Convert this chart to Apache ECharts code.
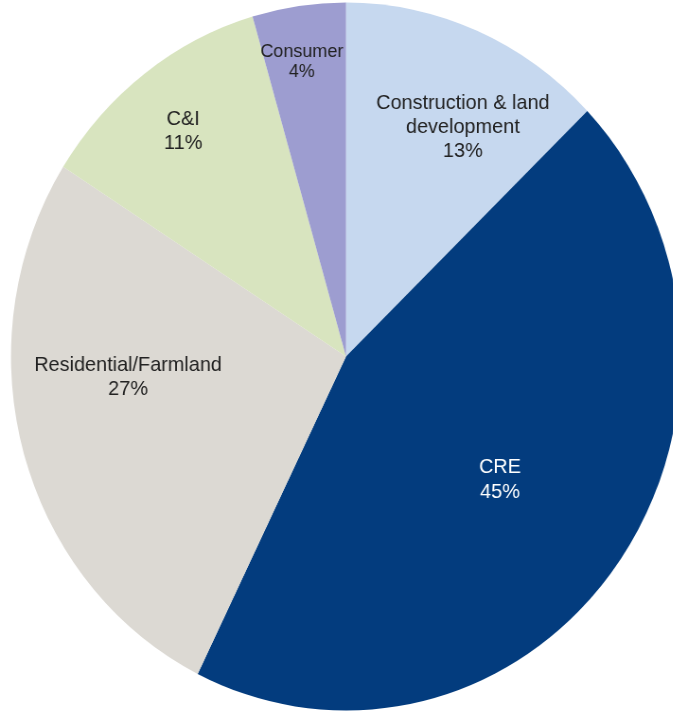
<!DOCTYPE html>
<html>
<head>
<meta charset="utf-8">
<script src="https://cdn.jsdelivr.net/npm/echarts@6/dist/echarts.min.js"></script>
<style>
  html, body { margin: 0; padding: 0; background: #ffffff; overflow: hidden; }
  #wrap { width: 673px; height: 712px; overflow: hidden; position: relative; }
  #chart { width: 712px; height: 712px; transform: scaleX(0.9463); transform-origin: 0 0; }
</style>
</head>
<body>
<div id="wrap"><div id="chart"></div></div>
<script>
// ---- data ----
const categories = ['Construction & land\ndevelopment', 'CRE', 'Residential/Farmland', 'C&I', 'Consumer'];
// slice sizes (percent of total)
const shares = [12.8, 44.5, 26.7, 11.5, 4.5];
// percentage labels as printed in the picture
const pctLabels = ['13%', '45%', '27%', '11%', '4%'];

// ---- style ----
const colors = ['#c6d8ef', '#033c7e', '#dcd9d3', '#d8e4bf', '#9d9dd0'];
const textColors = ['#222222', '#ffffff', '#222222', '#222222', '#222222'];
const fontSizes = [21, 21, 21, 21, 19];
const lineHeights = [24, 25, 24, 24, 20];
// label placement: angular shift from slice mid-angle (deg), radius fraction
const labelAngleShift = [5.3, 1.0, 10.6, -0.5, -0.9];
const labelRadiusFrac = [0.735, 0.577, 0.653, 0.80, 0.842];

const CX = 365.6, CY = 356.5, R = 354;

const total = shares.reduce((a, b) => a + b, 0);
const midAngles = [];
let acc = 0;
shares.forEach(v => { midAngles.push((acc + v / 2) / total * 360); acc += v; });

const chart = echarts.init(document.getElementById('chart'), null, { renderer: 'canvas' });
chart.setOption({
  animation: false,
  backgroundColor: '#ffffff',
  series: [{
    type: 'pie',
    center: [CX, CY],
    radius: [0, R],
    startAngle: 90,
    clockwise: true,
    avoidLabelOverlap: false,
    itemStyle: { borderWidth: 0 },
    label: {
      show: true,
      position: 'inside',
      fontFamily: 'Arial, "Liberation Sans", sans-serif',
      formatter: p => p.name + '\n' + pctLabels[p.dataIndex]
    },
    labelLine: { show: false },
    emphasis: { disabled: true },
    labelLayout: function (p) {
      const i = p.dataIndex;
      const a = (midAngles[i] + labelAngleShift[i]) * Math.PI / 180;
      const f = labelRadiusFrac[i] * R;
      return {
        x: CX + f * Math.sin(a),
        y: CY - f * Math.cos(a),
        align: 'center',
        verticalAlign: 'middle'
      };
    },
    data: categories.map((c, i) => ({
      name: c,
      value: shares[i],
      itemStyle: { color: colors[i] },
      label: { color: textColors[i], fontSize: fontSizes[i], lineHeight: lineHeights[i] }
    }))
  }]
});
</script>
</body>
</html>
